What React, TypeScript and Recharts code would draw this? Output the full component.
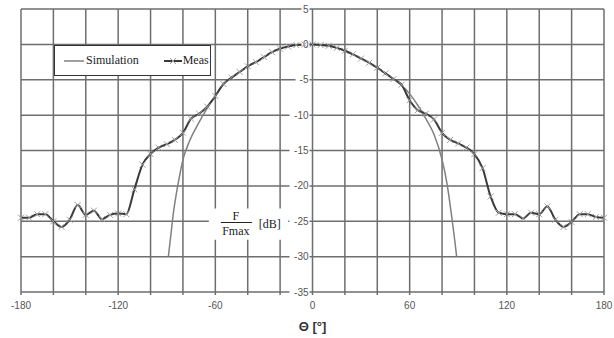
import React from 'react';
import {
  LineChart,
  Line,
  XAxis,
  YAxis,
  CartesianGrid,
  Legend,
  ReferenceArea,
  ReferenceDot,
} from 'recharts';

// measured pattern, every 5 degrees
const measTheta = [
  -180, -175, -170, -165, -160, -155, -150, -145, -140, -135, -130, -125, -120, -115, -110, -105, -100, -95,
  -90, -85, -80, -75, -70, -65, -60, -55, -50, -45, -40, -35, -30, -25, -20, -15, -10, -5,
  0, 5, 10, 15, 20, 25, 30, 35, 40, 45, 50, 55, 60, 65, 70, 75, 80, 85,
  90, 95, 100, 105, 110, 115, 120, 125, 130, 135, 140, 145, 150, 155, 160, 165, 170, 175, 180,
];
const measDb = [
  -24.5, -24.5, -24.0, -24.0, -25.0, -25.8, -24.8, -22.7, -24.1, -23.5, -24.7, -24.1, -23.9, -24.0, -20.5, -17.0, -15.5, -14.6,
  -14.1, -13.5, -12.5, -10.5, -9.8, -8.8, -7.3, -5.6, -4.7, -3.9, -3.1, -2.5, -1.8, -1.1, -0.6, -0.3, -0.1, 0,
  0, -0.1, -0.2, -0.5, -0.9, -1.4, -2.0, -2.6, -3.3, -4.1, -4.9, -5.7, -7.9, -9.3, -9.8, -10.6, -12.5, -13.5,
  -14.0, -14.6, -15.5, -17.5, -21.5, -23.8, -24.0, -24.0, -24.6, -23.8, -24.0, -22.9, -24.8, -25.8, -25.1, -24.0, -24.0, -24.4, -24.5,
];

// simulated main lobe
const simTheta = [
  -89, -87, -86, -84, -82, -80, -76, -70, -65, -60, -55, -50, -45, -40, -35, -30, -25, -20, -15, -10, -5,
  0, 5, 10, 15, 20, 25, 30, 35, 40, 45, 50, 55, 60, 65, 70, 75, 80, 83, 86, 88, 89,
];
const simDb = [
  -30, -26, -24, -21, -18.5, -16.3, -13.7, -11, -9, -7.3, -5.6, -4.7, -3.9, -3.1, -2.5, -1.8, -1.1, -0.6, -0.3, -0.1, 0,
  0, -0.1, -0.2, -0.5, -0.9, -1.4, -2.0, -2.6, -3.3, -4.1, -4.9, -5.8, -7.0, -8.6, -10.5, -12.7, -16.3, -19.6, -24.4, -28, -30,
];

const xTicks = [-180, -160, -140, -120, -100, -80, -60, -40, -20, 0, 20, 40, 60, 80, 100, 120, 140, 160, 180];
const yTicks = [-35, -30, -25, -20, -15, -10, -5, 0, 5];

const measData = measTheta.map((t, i) => ({ theta: t, value: measDb[i] }));
const simData = simTheta.map((t, i) => ({ theta: t, value: simDb[i] }));

const GRID = '#6e6e6e';

const XMark = (props: any) => {
  const { cx, cy } = props;
  if (cx == null || cy == null) return null;
  return (
    <path
      d={`M${cx - 3},${cy - 3}L${cx + 3},${cy + 3}M${cx - 3},${cy + 3}L${cx + 3},${cy - 3}`}
      stroke="#a0a0a0"
      strokeWidth={1}
      fill="none"
    />
  );
};

const YLabel = (v: number) => (props: any) => {
  const { cx, cy } = props;
  const txt = String(v);
  const w = txt.length * 6 + 2;
  return (
    <g>
      <rect x={cx - w - 3} y={cy - 6} width={w} height={12} fill="#fff" />
      <text
        x={cx - 4}
        y={cy}
        textAnchor="end"
        dominantBaseline="central"
        fontFamily="'Liberation Sans', Arial, sans-serif"
        fontSize={10}
        fill="#555"
      >
        {txt}
      </text>
    </g>
  );
};

const FracLabel = (props: any) => {
  const vb = props.viewBox || {};
  const x = vb.x ?? 0;
  const y = vb.y ?? 0;
  const font = "'Liberation Serif', 'Times New Roman', serif";
  return (
    <g fontFamily={font} fontSize={12} fill="#222">
      <text x={x + 27} y={y + 11} textAnchor="middle">F</text>
      <line x1={x + 12} x2={x + 43} y1={y + 14} y2={y + 14} stroke="#222" strokeWidth={1} />
      <text x={x + 27} y={y + 26} textAnchor="middle">Fmax</text>
      <text x={x + 50} y={y + 19}>[dB]</text>
    </g>
  );
};

const LegendBox = () => (
  <div
    style={{
      border: '1.5px solid #333',
      background: '#fff',
      width: 157,
      height: 31,
      boxSizing: 'border-box',
      display: 'flex',
      alignItems: 'center',
      fontFamily: "'Liberation Serif', 'Times New Roman', serif",
      fontSize: 12,
      color: '#222',
    }}
  >
    <svg width={20} height={10} style={{ marginLeft: 9, marginRight: 2 }}>
      <line x1={0} x2={20} y1={5} y2={5} stroke="#808080" strokeWidth={1.5} />
    </svg>
    <span>Simulation</span>
    <svg width={18} height={10} style={{ marginLeft: 25, marginRight: 1 }}>
      <line x1={0} x2={18} y1={5} y2={5} stroke="#3a3a3a" strokeWidth={2} />
      <path d="M6,2L12,8M6,8L12,2" stroke="#a0a0a0" strokeWidth={1} />
    </svg>
    <span>Meas</span>
  </div>
);

export default function App() {
  return (
    <div style={{ position: 'absolute', left: 0, top: 0, background: '#fff' }}>
      <LineChart width={614} height={338} margin={{ top: 9, right: 10, left: 21, bottom: 0 }}>
        <CartesianGrid stroke={GRID} strokeWidth={1.5} />
        <XAxis
          type="number"
          dataKey="theta"
          domain={[-180, 180]}
          ticks={xTicks}
          interval={0}
          tickFormatter={(v: number) => (v % 60 === 0 ? String(v) : '')}
          axisLine={false}
          tickLine={{ stroke: GRID, strokeWidth: 1.5 }}
          tickSize={3}
          tickMargin={7}
          height={46}
          tick={{ fontSize: 10, fill: '#555', fontFamily: "'Liberation Sans', Arial, sans-serif" }}
          label={{
            value: 'Θ [°]',
            position: 'insideBottom',
            offset: 7,
            style: { fontSize: 13, fontWeight: 'bold', fill: '#333', fontFamily: "'Liberation Sans', Arial, sans-serif" },
          }}
        />
        <YAxis
          type="number"
          domain={[-35, 5]}
          ticks={yTicks}
          interval={0}
          width={0}
          tick={() => <g />}
          axisLine={false}
          tickLine={false}
        />
        <ReferenceArea
          x1={-64}
          x2={-15}
          y1={-23.2}
          y2={-27.6}
          fill="#fff"
          fillOpacity={1}
          stroke="none"
          label={<FracLabel />}
        />
        {yTicks.map((v) => (
          <ReferenceDot key={v} x={0} y={v} r={0} ifOverflow="visible" shape={YLabel(v)} />
        ))}
        <Legend
          layout="vertical"
          align="center"
          verticalAlign="middle"
          wrapperStyle={{ top: 45, left: 54, width: 157, height: 31 }}
          content={<LegendBox />}
        />
        <Line
          data={simData}
          dataKey="value"
          name="Simulation"
          type="monotone"
          stroke="#808080"
          strokeWidth={1.5}
          dot={false}
          isAnimationActive={false}
        />
        <Line
          data={measData}
          dataKey="value"
          name="Meas"
          type="monotone"
          stroke="#3a3a3a"
          strokeWidth={2}
          dot={<XMark />}
          isAnimationActive={false}
        />
      </LineChart>
    </div>
  );
}
